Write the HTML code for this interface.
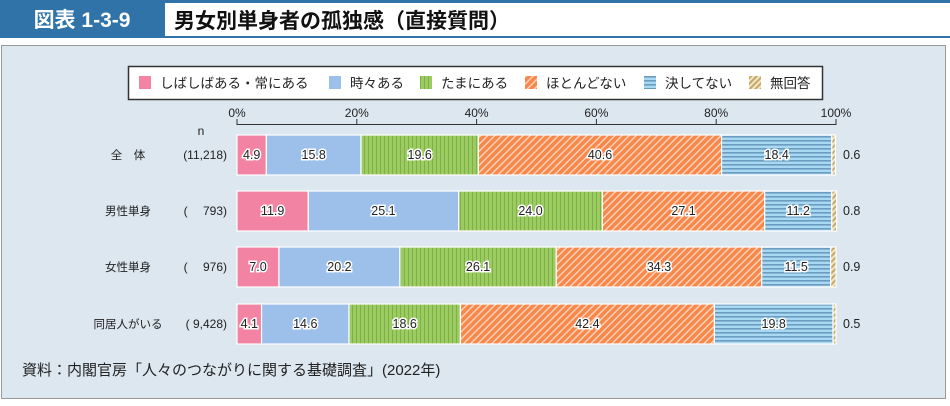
<!DOCTYPE html>
<html><head><meta charset="utf-8"><style>
body{margin:0;width:950px;height:401px;background:#fff;overflow:hidden;font-family:"Liberation Sans","Noto Sans CJK JP",sans-serif;}
</style></head><body>
<svg width="950" height="401" xmlns="http://www.w3.org/2000/svg" id="chart" font-family="Liberation Sans, Noto Sans CJK JP, sans-serif">
<defs>
<pattern id="pGreen" width="4" height="4" patternUnits="userSpaceOnUse"><rect width="4" height="4" fill="#9dcb63"/><rect width="1" height="4" fill="#7fb044"/></pattern>
<pattern id="pOrange" width="5" height="5" patternUnits="userSpaceOnUse" patternTransform="rotate(45)"><rect width="5" height="5" fill="#f7874a"/><rect width="1.5" height="5" fill="#ffd2b8"/></pattern>
<pattern id="pBlue" width="4" height="4" patternUnits="userSpaceOnUse"><rect width="4" height="4" fill="#a9d8f2"/><rect width="4" height="1.6" fill="#6a9cc0"/></pattern>
<pattern id="pTan" width="4" height="4" patternUnits="userSpaceOnUse" patternTransform="rotate(45)"><rect width="4" height="4" fill="#f2e6c8"/><rect width="2" height="4" fill="#c4a865"/></pattern>
</defs>
<rect x="0" y="0" width="950" height="38" fill="#2f73a8"/>
<rect x="165" y="3" width="785" height="33" fill="#fff"/>
<text x="82" y="27" fill="#fff" font-size="21" font-weight="bold" text-anchor="middle">図表 1-3-9</text>
<text x="174" y="28" fill="#111" font-size="21" font-weight="bold">男女別単身者の孤独感（直接質問）</text>
<rect x="1.5" y="45.5" width="944" height="353" fill="#dce7f0" stroke="#999"/>
<rect x="128.5" y="66.5" width="694" height="33" fill="#fff" stroke="#333" stroke-width="1.5"/>
<g id="legend"></g>
<g id="axis"></g>
<g id="bars"></g>
<text x="22" y="375" font-size="15" fill="#222">資料：内閣官房「人々のつながりに関する基礎調査」(2022年)</text>
</svg>
<script>
const categories=["全　体","男性単身","女性単身","同居人がいる"];
const nLabels=["(11,218)","(　 793)","(　 976)","( 9,428)"];
const seriesNames=["しばしばある・常にある","時々ある","たまにある","ほとんどない","決してない","無回答"];
const often=[4.9,11.9,7.0,4.1];
const sometimes=[15.8,25.1,20.2,14.6];
const occasionally=[19.6,24.0,26.1,18.6];
const rarely=[40.6,27.1,34.3,42.4];
const never=[18.4,11.2,11.5,19.8];
const noAnswer=[0.6,0.8,0.9,0.5];
const ticks=[0,20,40,60,80,100];
const fills=["#f283a2","#9cc0e9","url(#pGreen)","url(#pOrange)","url(#pBlue)","url(#pTan)"];
const series=[often,sometimes,occasionally,rarely,never,noAnswer];
const NS="http://www.w3.org/2000/svg";
const X0=237,X1=836,rowY=[135,191,247,304],BH=40;
const x=v=>X0+(X1-X0)*v/100;
function mk(t,a,p){const e=document.createElementNS(NS,t);for(const k in a)e.setAttribute(k,a[k]);p.appendChild(e);return e;}
const lg=document.getElementById('legend');
const lx=[139,329,420,525,644,749];
seriesNames.forEach((s,i)=>{
 const r=mk('rect',{x:lx[i],y:76,width:12,height:13,fill:fills[i]},lg);
 
 
 const t=mk('text',{x:lx[i]+21,y:88,'font-size':13.5,fill:'#222'},lg);t.textContent=s;
 
 
});
const ax=document.getElementById('axis');
const al=mk('line',{x1:X0,x2:X1,y1:124.5,y2:124.5,stroke:'#333'},ax);


ticks.forEach(v=>{
 mk('line',{x1:x(v),x2:x(v),y1:119,y2:125,stroke:'#333'},ax);
 const t=mk('text',{x:x(v),y:117,'font-size':12,'text-anchor':'middle',fill:'#222'},ax);t.textContent=v+'%';
 
 
});
const nt=mk('text',{x:201,y:135,'font-size':12,'text-anchor':'middle',fill:'#222'},ax);nt.textContent='n';
const bg=document.getElementById('bars');
categories.forEach((c,r)=>{
 const y=rowY[r],cy=y+BH/2+4;
 const ct=mk('text',{x:128,y:cy,'font-size':11.5,'text-anchor':'middle',fill:'#222'},bg);ct.textContent=c;
 
 
 const n=mk('text',{x:227,y:cy,'font-size':12,'text-anchor':'end',fill:'#222'},bg);n.textContent=nLabels[r];
 
 
 let acc=0;
 series.forEach((s,i)=>{
  const v=s[r];
  const b=mk('rect',{x:x(acc),y:y,width:x(acc+v)-x(acc),height:BH,fill:fills[i],stroke:'#fff','stroke-width':1.2},bg);
  
  
  if(i<5){
   const t=mk('text',{x:(x(acc)+x(acc+v))/2,y:cy,'font-size':12.5,'text-anchor':'middle',fill:'#222',stroke:'#fff','stroke-width':3,'paint-order':'stroke'},bg);
   t.textContent=v.toFixed(1);
   
   
  }else{
   const t=mk('text',{x:843,y:cy,'font-size':12.5,fill:'#222'},bg);t.textContent=v.toFixed(1);
   
   
  }
  acc+=v;
 });
});
</script>
</body></html>
